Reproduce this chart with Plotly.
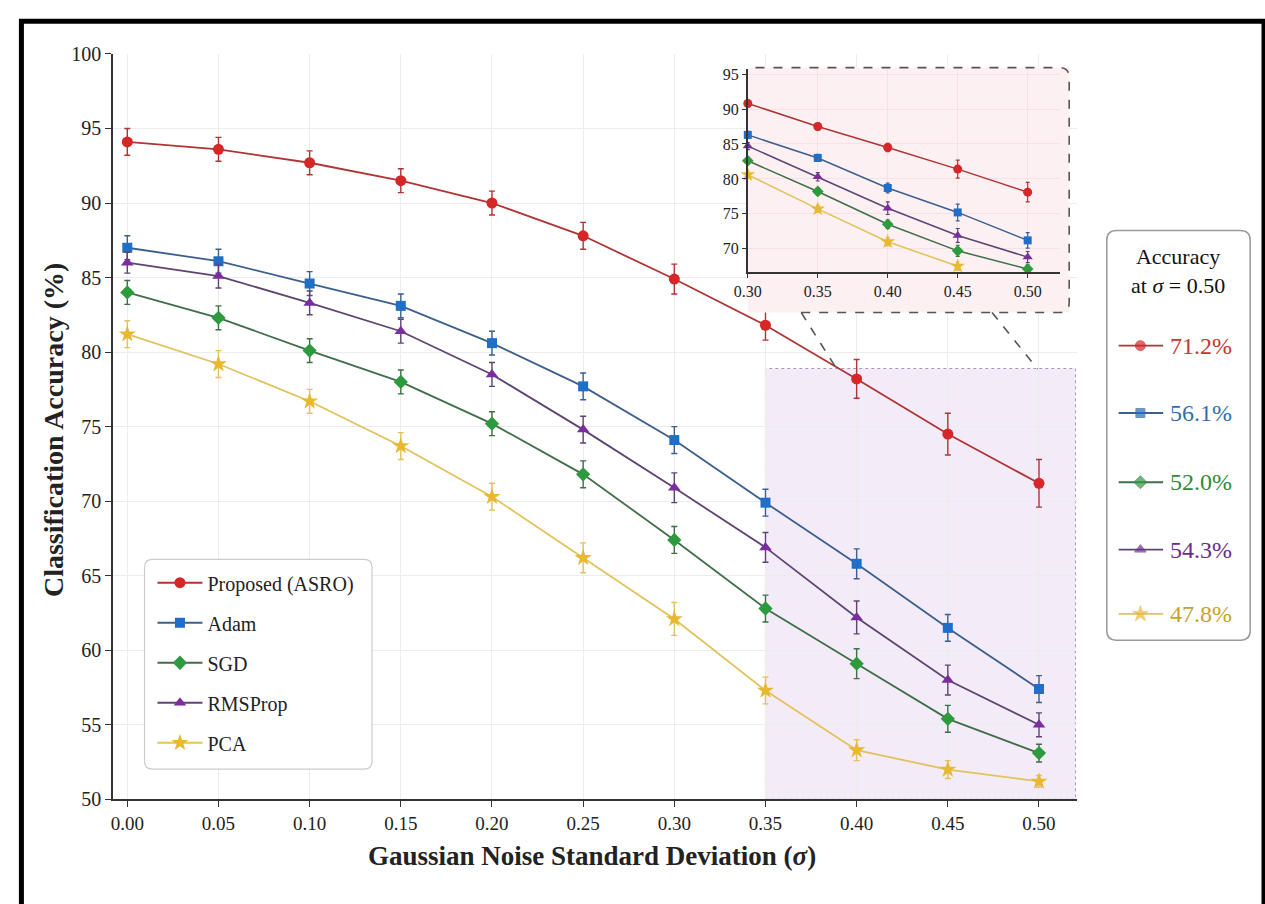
import plotly.graph_objects as go

W, H = 1265, 904
def px(x): return x / W
def py(y): return 1 - y / H

# ---------------- data ----------------
sigma = [0.00, 0.05, 0.10, 0.15, 0.20, 0.25, 0.30, 0.35, 0.40, 0.45, 0.50]
proposed = [94.1, 93.6, 92.7, 91.5, 90.0, 87.8, 84.9, 81.8, 78.2, 74.5, 71.2]
adam     = [87.0, 86.1, 84.6, 83.1, 80.6, 77.7, 74.1, 69.9, 65.8, 61.5, 57.4]
sgd      = [84.0, 82.3, 80.1, 78.0, 75.2, 71.8, 67.4, 62.8, 59.1, 55.4, 53.1]
rmsprop  = [86.0, 85.1, 83.3, 81.4, 78.5, 74.8, 70.9, 66.9, 62.2, 58.0, 55.0]
pca      = [81.2, 79.2, 76.7, 73.7, 70.3, 66.2, 62.1, 57.3, 53.3, 52.0, 51.2]

proposed_err = [0.9, 0.8, 0.8, 0.8, 0.8, 0.9, 1.0, 1.0, 1.3, 1.4, 1.6]
adam_err     = [0.8, 0.8, 0.8, 0.8, 0.8, 0.9, 0.9, 0.9, 1.0, 0.9, 0.9]
sgd_err      = [0.8, 0.8, 0.8, 0.8, 0.8, 0.9, 0.9, 0.9, 1.0, 0.9, 0.6]
rmsprop_err  = [0.7, 0.8, 0.8, 0.8, 0.8, 0.9, 1.0, 1.0, 1.1, 1.0, 0.8]
pca_err      = [0.9, 0.9, 0.8, 0.9, 0.9, 1.0, 1.1, 0.9, 0.7, 0.6, 0.4]

inset_sigma    = [0.30, 0.35, 0.40, 0.45, 0.50]
inset_proposed = [90.8, 87.5, 84.5, 81.4, 78.1]
inset_adam     = [86.3, 83.0, 78.7, 75.2, 71.2]
inset_sgd      = [82.6, 78.2, 73.5, 69.7, 67.1]
inset_rmsprop  = [84.7, 80.3, 75.8, 71.9, 68.8]
inset_pca      = [80.6, 75.7, 71.0, 67.5, None]   # last point lies below the inset's visible range

inset_proposed_err = [0.5, 0.5, 0.6, 1.3, 1.4]
inset_adam_err     = [0.5, 0.5, 0.7, 1.2, 1.1]
inset_sgd_err      = [0.5, 0.5, 0.6, 0.8, 0.6]
inset_rmsprop_err  = [0.5, 0.6, 0.9, 1.0, 0.8]
inset_pca_err      = [0.5, 0.5, 0.6, 0.6, 0.0]

methods = ["Proposed (ASRO)", "Adam", "SGD", "RMSProp", "PCA"]
panel_labels = ["71.2%", "56.1%", "52.0%", "54.3%", "47.8%"]

x_ticks = [0.00, 0.05, 0.10, 0.15, 0.20, 0.25, 0.30, 0.35, 0.40, 0.45, 0.50]
y_ticks = [50, 55, 60, 65, 70, 75, 80, 85, 90, 95, 100]
inset_x_ticks = [0.30, 0.35, 0.40, 0.45, 0.50]
inset_y_ticks = [70, 75, 80, 85, 90, 95]

# ---------------- styles ----------------
FONT = "Liberation Serif, DejaVu Serif, serif"
marker_colors = ["#d62728", "#1f6fc8", "#2e9a3e", "#7b2d9e", "#e8b830"]
line_colors   = ["#b03434", "#3d5f8c", "#3f6e48", "#5e4472", "#e2c25c"]
text_colors   = ["#c0392b", "#2e6fb0", "#2e8b3a", "#6a2c8a", "#c9a227"]
symbols = ["circle", "square", "diamond", "triangle-up", "star"]
msizes  = [11, 10, 11, 11, 13]
inset_msizes = [9, 8, 9, 9, 11]

main_series = [proposed, adam, sgd, rmsprop, pca]
main_errs = [proposed_err, adam_err, sgd_err, rmsprop_err, pca_err]
inset_series = [inset_proposed, inset_adam, inset_sgd, inset_rmsprop, inset_pca]
inset_errs = [inset_proposed_err, inset_adam_err, inset_sgd_err, inset_rmsprop_err, inset_pca_err]

fig = go.Figure()

for i, name in enumerate(methods):
    fig.add_trace(go.Scatter(
        x=sigma, y=main_series[i], name=name, mode="lines+markers",
        legendgroup=name,
        line=dict(color=line_colors[i], width=1.8),
        marker=dict(symbol=symbols[i], size=msizes[i], color=marker_colors[i]),
        error_y=dict(type="data", array=main_errs[i], color=line_colors[i],
                     thickness=1.4, width=3),
        xaxis="x", yaxis="y"))

# background subplot for the inset box (covers the main grid)
fig.add_trace(go.Scatter(x=[None], y=[None], xaxis="x2", yaxis="y2",
                         showlegend=False, hoverinfo="skip"))

for i, name in enumerate(methods):
    fig.add_trace(go.Scatter(
        x=inset_sigma, y=inset_series[i], name=name, mode="lines+markers",
        showlegend=False, cliponaxis=False,
        line=dict(color=line_colors[i], width=1.5),
        marker=dict(symbol=symbols[i], size=inset_msizes[i], color=marker_colors[i]),
        error_y=dict(type="data", array=inset_errs[i], color=line_colors[i],
                     thickness=1.2, width=2),
        xaxis="x3", yaxis="y3"))

# right-hand summary panel (pixel-like coordinates on hidden axes)
panel_rows = [343, 412, 483, 552, 618]
for i, name in enumerate(methods):
    fig.add_trace(go.Scatter(
        x=[1117, 1139, 1162], y=[panel_rows[i]] * 3, mode="lines+markers",
        showlegend=False, hoverinfo="skip",
        line=dict(color=line_colors[i], width=1.8),
        marker=dict(symbol=symbols[i], size=[0, msizes[i] - 1, 0], color=marker_colors[i]),
        xaxis="x4", yaxis="y4"))
    fig.add_annotation(x=px(1167), y=py(panel_rows[i]), xref="paper", yref="paper",
                       text=panel_labels[i], showarrow=False, xanchor="left", yanchor="middle",
                       font=dict(family=FONT, size=24, color=text_colors[i]))

fig.add_annotation(x=px(1177), y=py(266), xref="paper", yref="paper",
                   text="Accuracy<br>at <i>σ</i> = 0.50", showarrow=False,
                   xanchor="center", yanchor="middle", align="center",
                   font=dict(family=FONT, size=22, color="#111"))

# axis titles
fig.add_annotation(x=px(584), y=py(866), xref="paper", yref="paper",
                   text="<b>Gaussian Noise Standard Deviation (<i>σ</i>)</b>", showarrow=False,
                   xanchor="center", yanchor="middle",
                   font=dict(family=FONT, size=27, color="#222"))
fig.add_annotation(x=px(40), y=py(430), xref="paper", yref="paper",
                   text="<b>Classification Accuracy (%)</b>", showarrow=False, textangle=-90,
                   xanchor="center", yanchor="middle",
                   font=dict(family=FONT, size=28, color="#222"))

def rrect(x0, y0, x1, y1, r):
    rx, ry = r / W, r / H
    X0, X1, Y0, Y1 = px(x0), px(x1), py(y1), py(y0)  # Y0 bottom, Y1 top
    return (f"M{X0+rx},{Y1} L{X1-rx},{Y1} Q{X1},{Y1} {X1},{Y1-ry} "
            f"L{X1},{Y0+ry} Q{X1},{Y0} {X1-rx},{Y0} L{X0+rx},{Y0} "
            f"Q{X0},{Y0} {X0},{Y0+ry} L{X0},{Y1-ry} Q{X0},{Y1} {X0+rx},{Y1} Z")

shapes = []
# white cover for main plot area (plot_bgcolor is the inset pink)
shapes.append(dict(type="rect", xref="paper", yref="paper", layer="below",
                   x0=px(95), x1=px(1080), y0=py(812), y1=py(40),
                   fillcolor="white", line=dict(width=0)))
# zoom region in main plot
shapes.append(dict(type="rect", xref="x", yref="y", layer="below",
                   x0=0.35, x1=0.52, y0=50, y1=78.9,
                   fillcolor="#f4ebf8", line=dict(color="#a898b8", width=1, dash="dot")))
# right panel box
shapes.append(dict(type="path", xref="paper", yref="paper", layer="below",
                   path=rrect(1105, 225, 1250, 645, 10),
                   fillcolor="white", line=dict(color="#9a9a9a", width=1.5)))
# main legend box
shapes.append(dict(type="path", xref="paper", yref="paper", layer="above",
                   path=rrect(132, 562, 362, 777, 8),
                   fillcolor="white", line=dict(color="#cccccc", width=1.2)))
# inset dashed border
ib = (f"M{px(796)},{py(309)} L{px(1057)},{py(309)} Q{px(1067)},{py(309)} {px(1067)},{py(299)} "
      f"L{px(1067)},{py(68)} Q{px(1067)},{py(58)} {px(1057)},{py(58)} L{px(742)},{py(58)}")
shapes.append(dict(type="path", xref="paper", yref="paper", layer="above", path=ib,
                   line=dict(color="#555555", width=1.6, dash="dash")))
# connectors
for (a, b), (c, d) in [((796, 309), (832, 367)), ((989, 309), (1035, 367))]:
    shapes.append(dict(type="line", xref="paper", yref="paper", layer="above",
                       x0=px(a), y0=py(b), x1=px(c), y1=py(d),
                       line=dict(color="#555555", width=1.6, dash="dash")))
# outer frame
shapes.append(dict(type="rect", xref="paper", yref="paper", layer="above",
                   x0=px(7.5), x1=px(1264), y0=py(930), y1=py(10.5),
                   line=dict(color="black", width=5)))

axis_common = dict(showline=True, linecolor="#333333", linewidth=1.5, ticks="outside",
                   tickcolor="#333333", ticklen=6, tickwidth=1.2, zeroline=False,
                   showgrid=True, gridcolor="#ececec", gridwidth=1)

fig.update_layout(
    width=W, height=H, margin=dict(l=0, r=0, t=0, b=0),
    paper_bgcolor="white", plot_bgcolor="#fcf0f3",
    font=dict(family=FONT, color="#222"),
    showlegend=True,
    legend=dict(x=px(140), y=py(566), xanchor="left", yanchor="top",
                bgcolor="rgba(0,0,0,0)", borderwidth=0, tracegroupgap=11,
                itemwidth=45, font=dict(family=FONT, size=20, color="#222")),
    xaxis=dict(domain=[px(100), px(1075)], range=[-0.0079, 0.5209], anchor="y",
               tickvals=x_ticks, ticktext=[f"{v:.2f}" for v in x_ticks],
               tickfont=dict(family=FONT, size=19, color="#222"), **axis_common),
    yaxis=dict(domain=[py(808), py(44)], range=[50, 100], anchor="x",
               tickvals=y_ticks, tickfont=dict(family=FONT, size=20, color="#222"),
               **axis_common),
    xaxis2=dict(domain=[px(742), px(1067)], range=[0, 1], anchor="y2", visible=False,
                showgrid=False, zeroline=False),
    yaxis2=dict(domain=[py(309), py(58)], range=[0, 1], anchor="x2", visible=False,
                showgrid=False, zeroline=False),
    xaxis3=dict(domain=[px(742), px(1058)], range=[0.30, 0.5233], anchor="y3",
                tickvals=inset_x_ticks, ticktext=[f"{v:.2f}" for v in inset_x_ticks],
                tickfont=dict(family=FONT, size=16, color="#222"),
                **{**axis_common, "ticklen": 4, "gridcolor": "#f3e3e8"}),
    yaxis3=dict(domain=[py(268), py(59)], range=[66.6, 95.8], anchor="x3",
                tickvals=inset_y_ticks,
                tickfont=dict(family=FONT, size=16, color="#222"),
                **{**axis_common, "ticklen": 4, "gridcolor": "#f3e3e8"}),
    xaxis4=dict(domain=[px(1111), px(1244)], range=[1111, 1244], anchor="y4", visible=False,
                showgrid=False, zeroline=False),
    yaxis4=dict(domain=[py(639), py(231)], range=[639, 231], anchor="x4", visible=False,
                showgrid=False, zeroline=False),
    shapes=shapes,
)

fig.write_html("out.html")
